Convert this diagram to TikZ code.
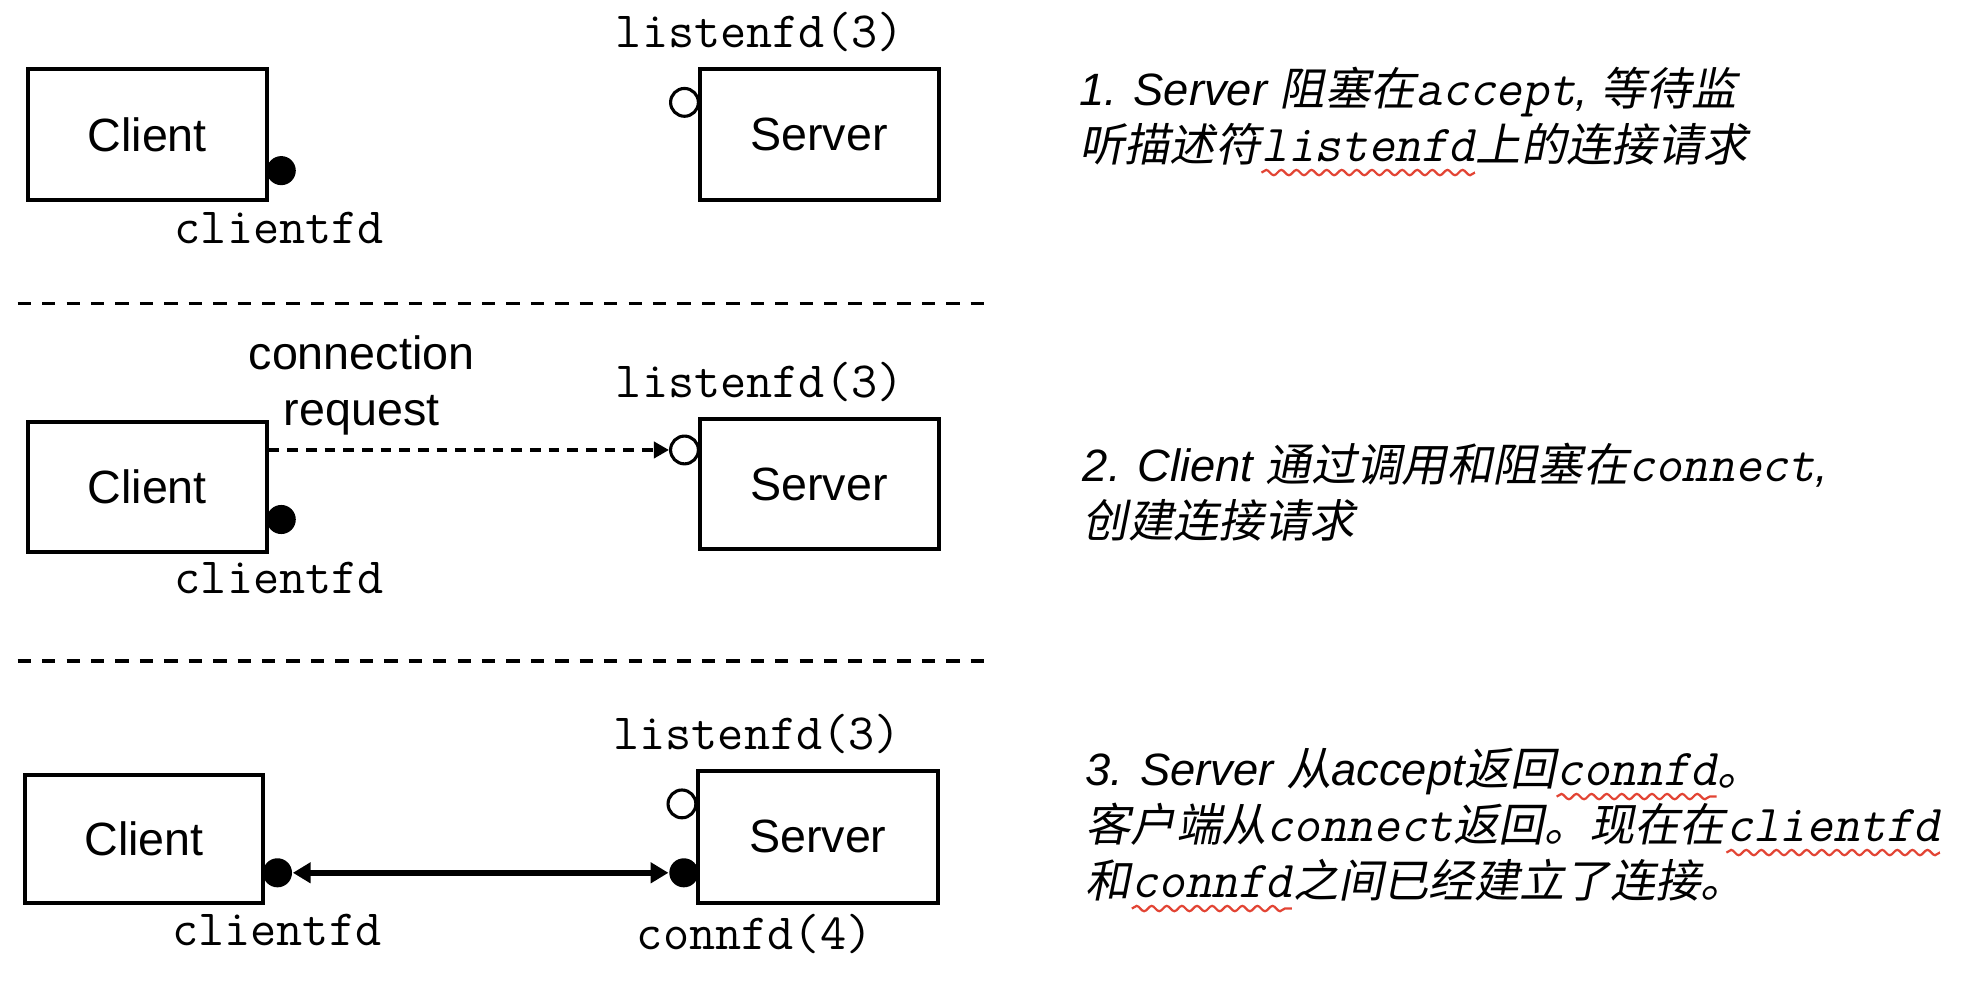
\documentclass[tikz,border=0pt]{standalone}
\usepackage{fontspec}
\setmainfont{Liberation Sans}
\setmonofont[Scale=1.143]{Latin Modern Mono}
\newfontfamily\codefont[Scale=1.143,FakeSlant=0.2]{Latin Modern Mono}
\newfontfamily\zhfont[FakeSlant=0.2]{Noto Sans CJK SC}
\usetikzlibrary{arrows.meta,decorations.pathmorphing}
\definecolor{spellred}{RGB}{226,68,52}

\newcommand{\zh}[1]{{\zhfont\upshape #1}}
\newcommand{\code}[1]{{\codefont\upshape #1}}
\newcommand{\wavy}[1]{\tikz[baseline=(wv.base)]{\node[inner sep=0pt,outer sep=0pt] (wv) {\code{#1}};
    \draw[spell] ([yshift=-2.4pt]wv.base west) -- ([yshift=-2.4pt]wv.base east);}}

\begin{document}
\begin{tikzpicture}[
font=\fontsize{10.5}{12.5}\selectfont,
host/.style={draw,line width=0.9pt,minimum width=1.89cm,minimum height=1.03cm,inner sep=0pt},
sock/.style={circle,fill=black,minimum size=0.23cm,inner sep=0pt},
lsock/.style={circle,draw,line width=0.7pt,fill=white,minimum size=0.22cm,inner sep=0pt},
fd/.style={font=\ttfamily\fontsize{10}{12}\selectfont,inner sep=0pt},
note/.style={anchor=west,align=left,inner sep=0pt,font=\fontsize{10.2}{12.6}\selectfont\itshape},
divider/.style={line width=0.8pt,dash pattern=on 3pt off 2.5pt},
request/.style={line width=0.9pt,dash pattern=on 2.4pt off 1.8pt,-{Triangle[length=3.4pt,width=3.6pt]}},
link/.style={line width=1.3pt,{Triangle[length=4pt,width=4.5pt]}-{Triangle[length=4pt,width=4.5pt]}},
spell/.style={draw=spellred,line width=0.5pt,decorate,decoration={snake,amplitude=0.6pt,segment length=3.4pt}}
]
    \useasboundingbox (0,0) rectangle (15.68,7.86);

    % Step 1: server waits in accept
    \node[host] (client1) at (1.165,6.795) {Client};
    \node[host] (server1) at (6.48,6.795) {Server};
    \node[sock] (cfd1) at (2.225,6.51) {};
    \node[lsock] (lfd1) at (5.415,7.05) {};
    \node[fd] (cfdlabel1) at (2.21,6.06) {clientfd};
    \node[fd] (lfdlabel1) at (6.01,7.61) {listenfd(3)};
    \node[note] (step1) at (8.53,6.895)
        {1. Server \zh{阻塞在}\code{accept}, \zh{等待监}\\\zh{听描述符}\wavy{listenfd}\zh{上的连接请求}};

    \draw[divider] (0.14,5.46) -- (7.80,5.46);

    % Step 2: client sends a connection request
    \node[host] (client2) at (1.165,4.005) {Client};
    \node[host] (server2) at (6.48,4.03) {Server};
    \node[sock] (cfd2) at (2.225,3.75) {};
    \node[lsock] (lfd2) at (5.415,4.30) {};
    \node[fd] (cfdlabel2) at (2.21,3.29) {clientfd};
    \node[fd] (lfdlabel2) at (6.01,4.84) {listenfd(3)};
    \node[align=center,inner sep=0pt] (reqlabel) at (2.86,4.81) {connection\\request};
    \draw[request] (client2.east |- lfd2) -- (lfd2.west);
    \node[note] (step2) at (8.56,3.97)
        {2. Client \zh{通过调用和阻塞在}\code{connect},\\\zh{创建连接请求}};

    \draw[divider] (0.14,2.63) -- (7.80,2.63);

    % Step 3: connection established
    \node[host,minimum width=1.88cm,minimum height=1.01cm] (client3) at (1.14,1.225) {Client};
    \node[host,minimum width=1.90cm,minimum height=1.04cm] (server3) at (6.47,1.24) {Server};
    \node[sock] (cfd3) at (2.195,0.955) {};
    \node[lsock] (lfd3) at (5.395,1.50) {};
    \node[sock] (connfd3) at (5.41,0.955) {};
    \draw[link] (cfd3) -- (connfd3);
    \node[fd] (cfdlabel3) at (2.19,0.50) {clientfd};
    \node[fd] (lfdlabel3) at (5.99,2.05) {listenfd(3)};
    \node[fd] (connlabel3) at (5.97,0.47) {connfd(4)};
    \node[note] (step3) at (8.58,1.29)
        {3. Server \zh{从}accept\zh{返回}\wavy{connfd}\zh{。}\\\zh{客户端从}\code{connect}\zh{返回。现在在}\wavy{clientfd}\\\zh{和}\wavy{connfd}\zh{之间已经建立了连接。}};

\end{tikzpicture}
\end{document}
